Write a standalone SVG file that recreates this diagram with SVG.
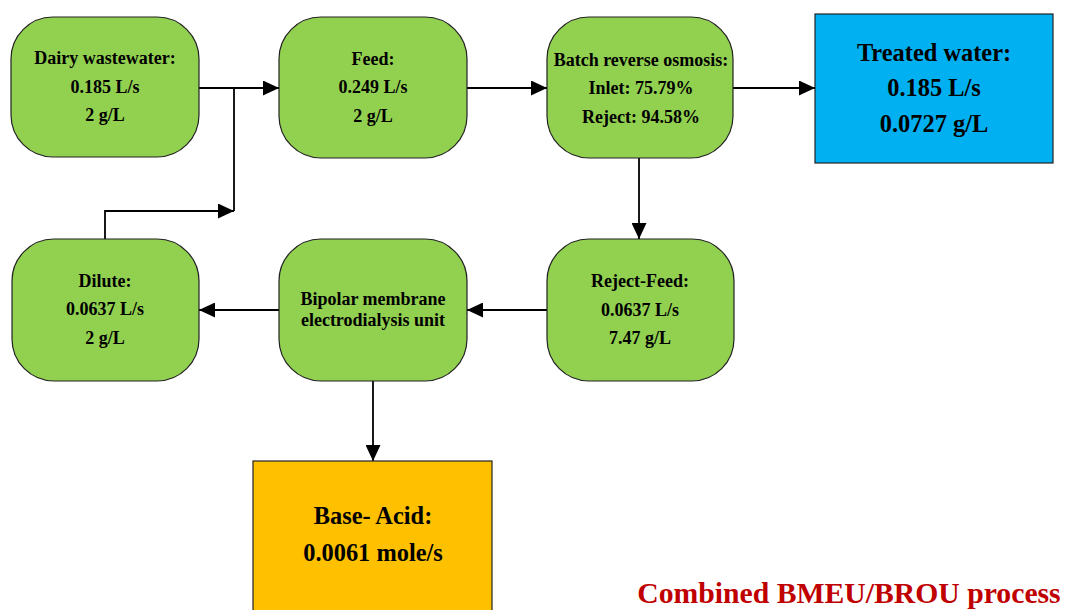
<svg xmlns="http://www.w3.org/2000/svg" width="1065" height="610" viewBox="0 0 1065 610">
<style>
.n{fill:#92D050;stroke:#222;stroke-width:1.2}
.t{font-family:"Liberation Serif","Times New Roman",serif;font-weight:bold;fill:#000;text-anchor:middle}
.s{font-size:18px}
.l{font-size:24.4px}
.c{fill:none;stroke:#000;stroke-width:1.8}
</style>
<defs>
<marker id="ah" viewBox="0 0 16 15" refX="16" refY="7.5" markerWidth="16" markerHeight="15" markerUnits="userSpaceOnUse" orient="auto">
<path d="M0,0 L16,7.5 L0,15 z" fill="#000"/>
</marker>
</defs>
<rect width="1065" height="610" fill="#fff"/>
<g id="connectors">
<path class="c" d="M199,88 H279" marker-end="url(#ah)"/>
<path class="c" d="M234,88 V211"/>
<path class="c" d="M105,239 V211 H234" marker-end="url(#ah)"/>
<path class="c" d="M467,88 H547" marker-end="url(#ah)"/>
<path class="c" d="M733,88 H815" marker-end="url(#ah)"/>
<path class="c" d="M639,158 V239" marker-end="url(#ah)"/>
<path class="c" d="M547,310 H467" marker-end="url(#ah)"/>
<path class="c" d="M279,310 H199" marker-end="url(#ah)"/>
<path class="c" d="M373,381 V461" marker-end="url(#ah)"/>
</g>
<g id="dairy">
<rect class="n" x="11" y="17" width="188" height="140" rx="42"/>
<text class="t s" x="105" y="64">Dairy wastewater:</text>
<text class="t s" x="105" y="93">0.185 L/s</text>
<text class="t s" x="105" y="121">2 g/L</text>
</g>
<g id="feed">
<rect class="n" x="279" y="17" width="188" height="141" rx="42"/>
<text class="t s" x="373" y="65">Feed:</text>
<text class="t s" x="373" y="93">0.249 L/s</text>
<text class="t s" x="373" y="122">2 g/L</text>
</g>
<g id="bro">
<rect class="n" x="547" y="17" width="186" height="141" rx="42"/>
<text class="t s" x="641" y="66">Batch reverse osmosis:</text>
<text class="t s" x="641" y="94">Inlet: 75.79%</text>
<text class="t s" x="641" y="123">Reject: 94.58%</text>
</g>
<g id="treated">
<rect x="815" y="14" width="238" height="149" fill="#00B0F0" stroke="#222" stroke-width="1.2"/>
<text class="t l" x="934" y="61">Treated water:</text>
<text class="t l" x="934" y="96">0.185 L/s</text>
<text class="t l" x="934" y="132">0.0727 g/L</text>
</g>
<g id="dilute">
<rect class="n" x="12" y="239" width="187" height="142" rx="42"/>
<text class="t s" x="105" y="287">Dilute:</text>
<text class="t s" x="105" y="315">0.0637 L/s</text>
<text class="t s" x="105" y="344">2 g/L</text>
</g>
<g id="bmeu">
<rect class="n" x="279" y="239" width="188" height="142" rx="42"/>
<text class="t s" x="373" y="305">Bipolar membrane</text>
<text class="t s" x="373" y="326">electrodialysis unit</text>
</g>
<g id="rejectfeed">
<rect class="n" x="547" y="239" width="187" height="142" rx="42"/>
<text class="t s" x="640" y="287">Reject-Feed:</text>
<text class="t s" x="640" y="316">0.0637 L/s</text>
<text class="t s" x="640" y="344">7.47 g/L</text>
</g>
<g id="baseacid">
<rect x="253" y="461" width="239" height="160" fill="#FFC000" stroke="#222" stroke-width="1.2"/>
<text class="t l" x="373" y="524">Base- Acid:</text>
<text class="t l" x="373" y="561">0.0061 mole/s</text>
</g>
<text x="849" y="603" font-family="'Liberation Serif','Times New Roman',serif" font-weight="bold" font-size="29.7" fill="#C00000" text-anchor="middle">Combined BMEU/BROU process</text>
</svg>
